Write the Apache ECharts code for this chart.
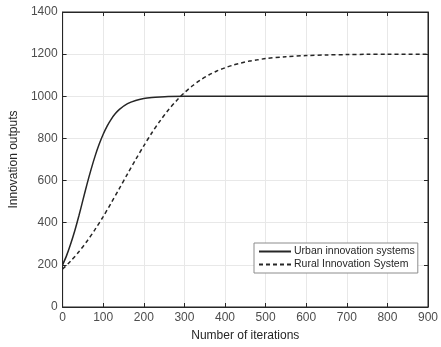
<!DOCTYPE html>
<html>
<head>
<meta charset="utf-8">
<script src="https://cdn.jsdelivr.net/npm/echarts@6/dist/echarts.min.js"></script>
<style>html,body{margin:0;padding:0;background:#fff}#c{width:441px;height:347px}</style>
</head>
<body>
<div id="c"></div>
<script>
var urbanX = [0,10,20,30,40,50,60,70,80,90,100,110,120,130,140,160,180,200,220,240,260,300,400,500,600,700,800,900];
var urbanY = [200,245,300,362,432,507,582,652,716,772,820,860,892,918,938,965,980,989,994,997,999,1000,1000,1000,1000,1000,1000,1000];
var ruralX = [0,20,40,60,80,100,120,140,160,180,200,220,240,260,280,300,320,340,360,380,400,420,440,460,480,500,550,600,650,700,750,800,900];
var ruralY = [180,218,262,312,368,429,495,563,632,700,765,827,883,934,978,1017,1050,1078,1101,1120,1135,1148,1158,1167,1173,1179,1188,1193,1196,1198,1199,1199,1200];
var xTicks = [0,100,200,300,400,500,600,700,800,900];
var yTicks = [0,200,400,600,800,1000,1200,1400];
var seriesNames = ['Urban innovation systems','Rural Innovation System'];

function pairs(xs, ys){ return xs.map(function(x,i){ return [x, ys[i]]; }); }

var font = '"Liberation Sans", Arial, sans-serif';
var chart = echarts.init(document.getElementById('c'));
var axisLineStyle = {color:'#262626', width:1};
function plain(v){ return String(v); }
chart.setOption({
  animation:false,
  backgroundColor:'#fff',
  grid:{left:57, right:7, top:12, bottom:38, show:true, borderColor:'#262626', borderWidth:1, backgroundColor:'transparent'},
  legend:{
    orient:'vertical', left:254, top:243,
    itemWidth:32, itemHeight:10, itemGap:2,
    padding:[3,3,3,4],
    backgroundColor:'#fff', borderColor:'#8c8c8c', borderWidth:1,
    itemStyle:{opacity:0},
    textStyle:{fontFamily:font, fontSize:10.5, color:'#262626', padding:[0,0,0,-2]},
    data:seriesNames
  },
  xAxis:[{
    type:'value', min:xTicks[0], max:xTicks[xTicks.length-1], interval:100,
    name:'Number of iterations', nameLocation:'middle', nameGap:23,
    nameTextStyle:{fontFamily:font, fontSize:12, color:'#262626'},
    axisLine:{show:true, lineStyle:axisLineStyle},
    axisTick:{show:true, inside:true, length:4, lineStyle:axisLineStyle},
    axisLabel:{fontFamily:font, fontSize:12, color:'#4d4d4d', margin:5, formatter:plain},
    splitLine:{show:true, lineStyle:{color:'#e8e8e8', width:1}}
  },{
    type:'value', position:'top', min:0, max:900, interval:100,
    axisLine:{show:true, onZero:false, lineStyle:axisLineStyle},
    axisTick:{show:true, inside:true, length:4, lineStyle:axisLineStyle},
    axisLabel:{show:false}, splitLine:{show:false}
  }],
  yAxis:[{
    type:'value', min:yTicks[0], max:yTicks[yTicks.length-1], interval:200,
    name:'Innovation outputs', nameLocation:'middle', nameGap:35,
    nameTextStyle:{fontFamily:font, fontSize:12, color:'#262626'},
    axisLine:{show:true, lineStyle:axisLineStyle},
    axisTick:{show:true, inside:true, length:4, lineStyle:axisLineStyle},
    axisLabel:{fontFamily:font, fontSize:12, color:'#4d4d4d', margin:5, formatter:plain},
    splitLine:{show:true, lineStyle:{color:'#e8e8e8', width:1}}
  },{
    type:'value', position:'right', min:0, max:1400, interval:200,
    axisLine:{show:true, onZero:false, lineStyle:axisLineStyle},
    axisTick:{show:true, inside:true, length:4, lineStyle:axisLineStyle},
    axisLabel:{show:false}, splitLine:{show:false}
  }],
  series:[{
    name:seriesNames[0], type:'line', smooth:0.3, symbol:'none',
    data:pairs(urbanX, urbanY),
    lineStyle:{color:'#262626', width:1.5, type:'solid'},
    itemStyle:{color:'#262626'}
  },{
    name:seriesNames[1], type:'line', smooth:0.3, symbol:'none',
    data:pairs(ruralX, ruralY),
    lineStyle:{color:'#262626', width:1.5, type:[4,3]},
    itemStyle:{color:'#262626'}
  },{
    name:'_frame', type:'line', xAxisIndex:1, yAxisIndex:1, symbol:'none',
    data:[], silent:true
  }]
});
</script>
</body>
</html>
